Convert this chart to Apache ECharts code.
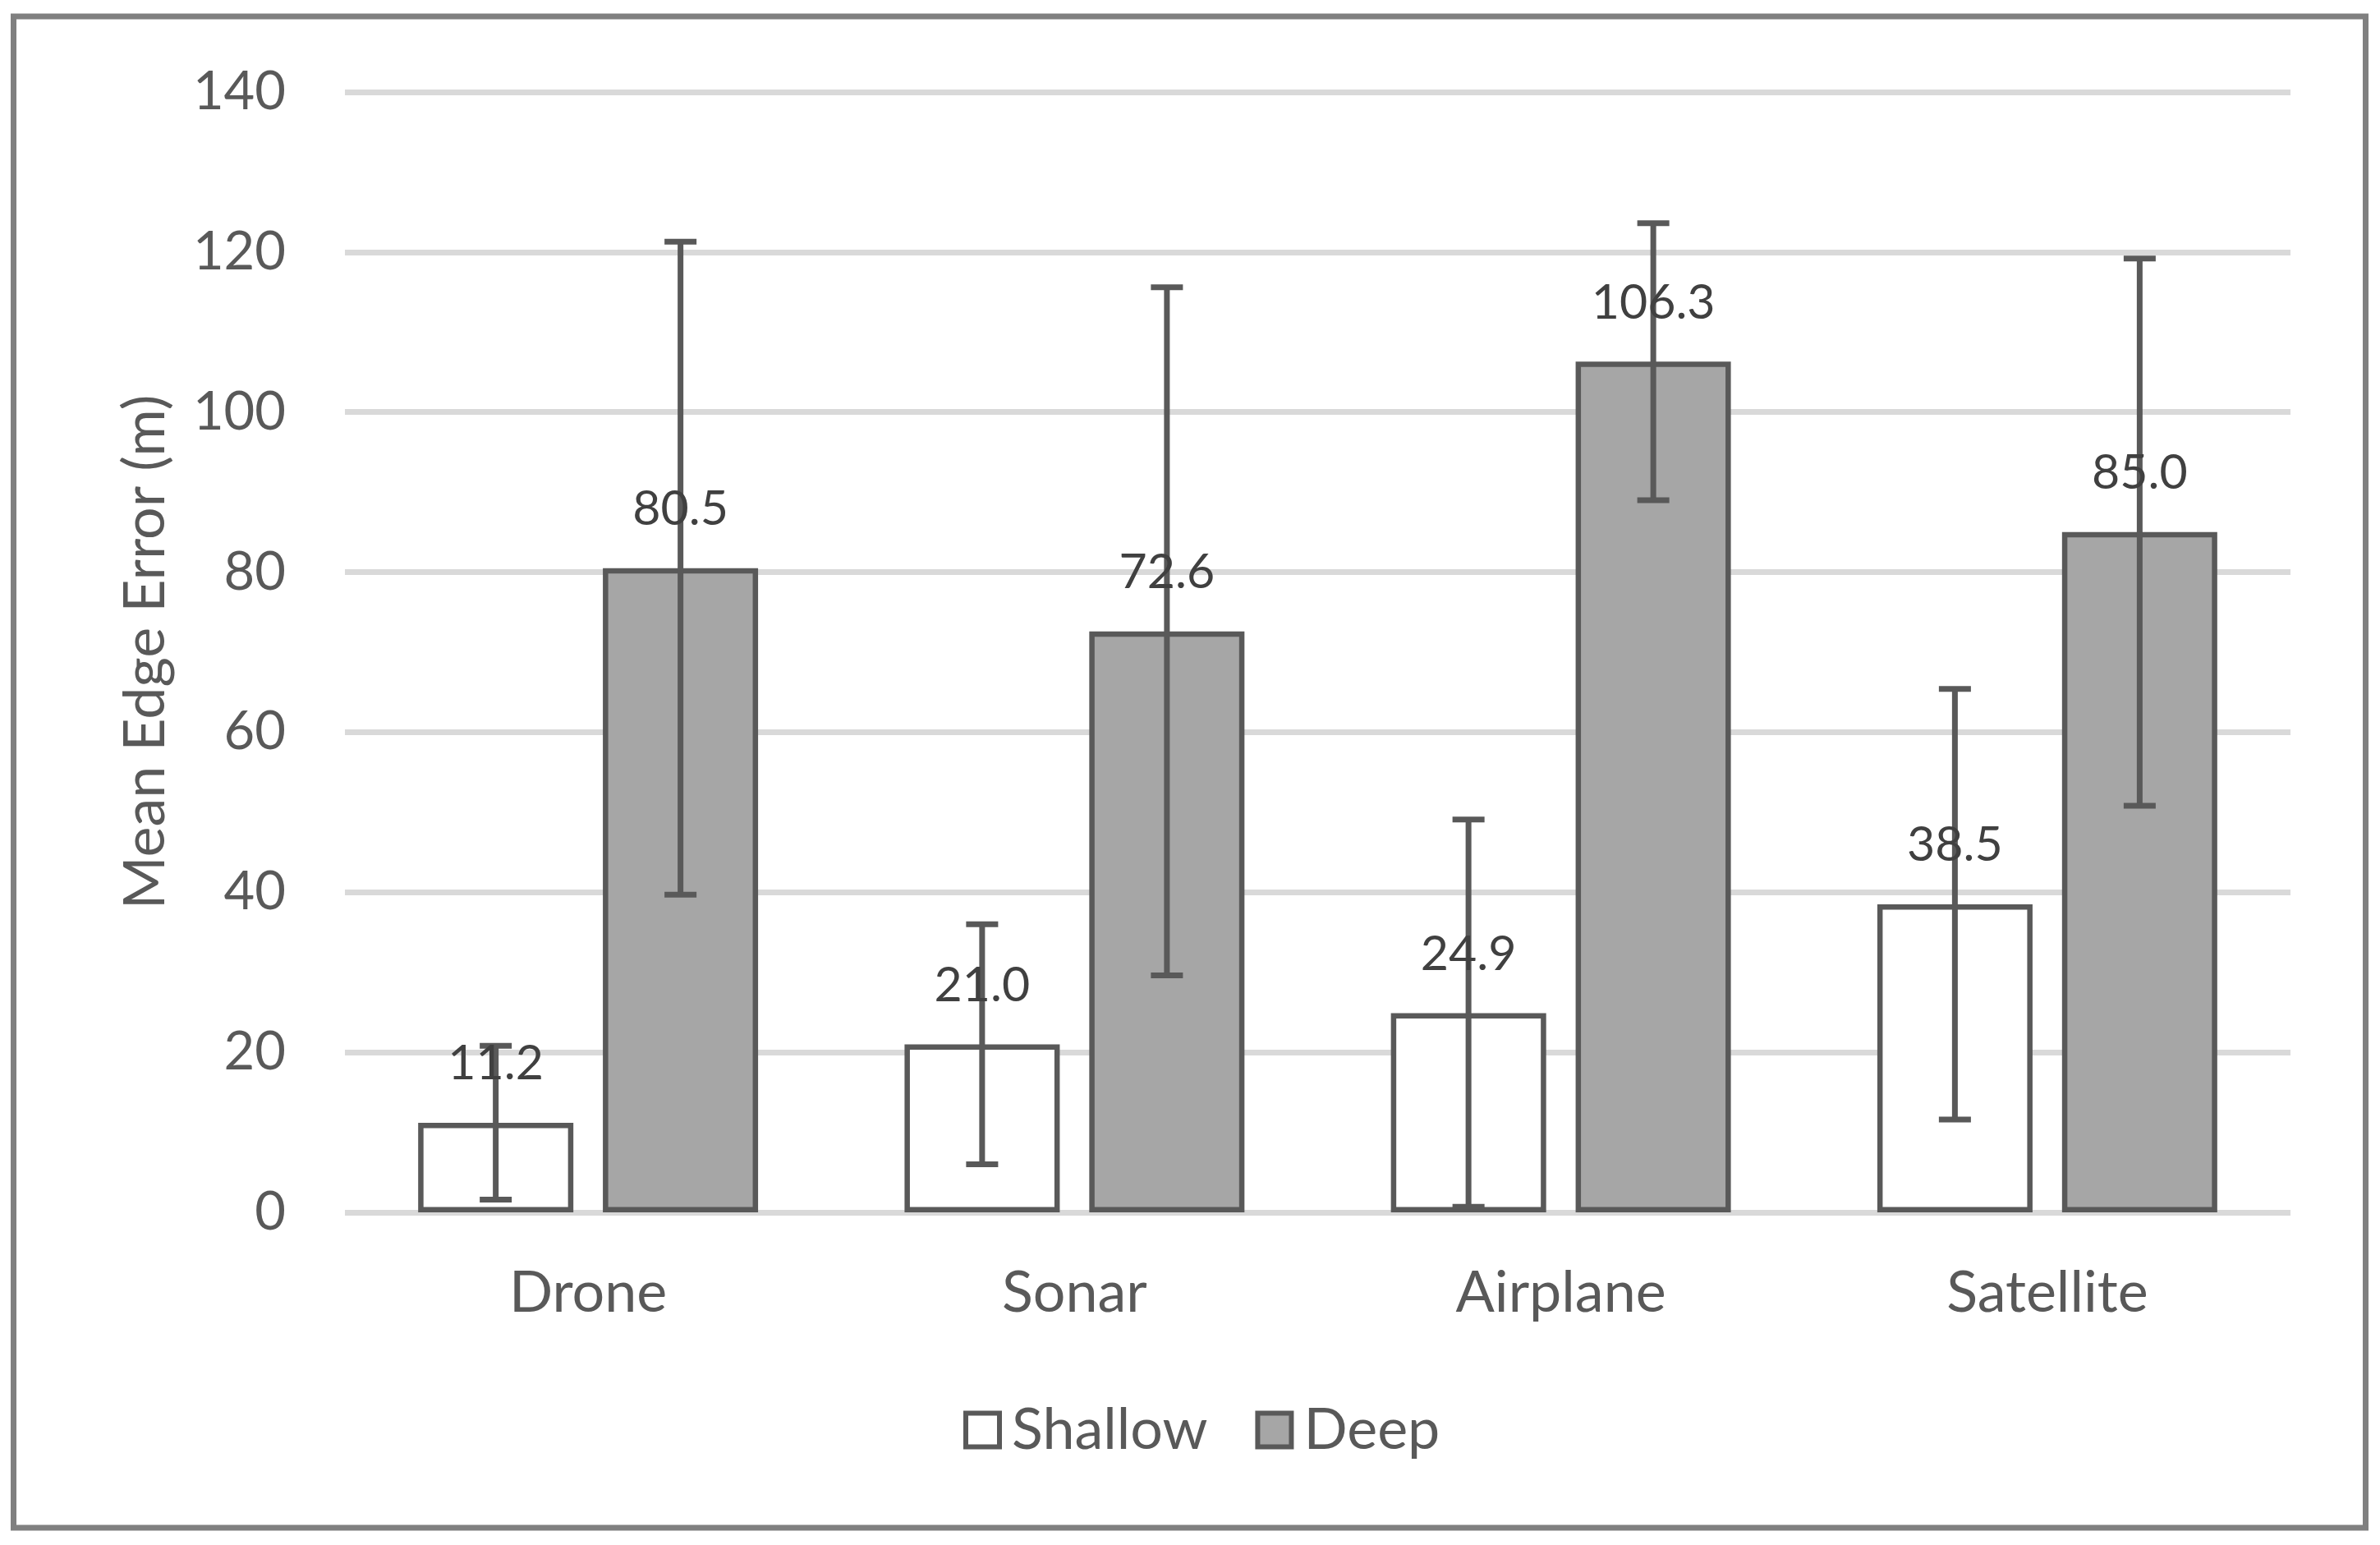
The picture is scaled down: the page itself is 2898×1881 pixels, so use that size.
<!DOCTYPE html>
<html>
<head>
<meta charset="utf-8">
<script src="https://cdn.jsdelivr.net/npm/echarts@6/dist/echarts.min.js"></script>
<style>
html,body{margin:0;padding:0;background:#fff;}
#chart{width:2898px;height:1881px;}
</style>
</head>
<body>
<div id="chart"></div>
<script>
const categories = ['Drone', 'Sonar', 'Airplane', 'Satellite'];
const shallowValues = [11.2, 21.0, 24.9, 38.5];
const deepValues = [80.5, 72.6, 106.3, 85.0];
const shallowErrors = [9.6, 15.0, 24.2, 26.9];
const deepErrors = [40.8, 43.0, 17.3, 34.2];
const yMin = 0, yMax = 140, yInterval = 20;

const FONT = 'Lato';
const AXIS_COLOR = '#595959';
const LABEL_COLOR = '#404040';
const BAR_W = 189;
const BAR_GAP_PX = 36;
const OFFSET = (BAR_W + BAR_GAP_PX) / 2;

function errData(vals, errs) {
  return vals.map((v, i) => [i, v, errs[i]]);
}

function errRender(offset) {
  return function (params, api) {
    const i = api.value(0), v = api.value(1), e = api.value(2);
    const c = api.coord([i, v]);
    const x = c[0] + offset;
    const yHi = api.coord([i, v + e])[1];
    const yLo = api.coord([i, v - e])[1];
    const hw = 19.5;
    const style = { stroke: AXIS_COLOR, lineWidth: 7 };
    return {
      type: 'group',
      children: [
        { type: 'line', shape: { x1: x, y1: yHi, x2: x, y2: yLo }, style, z2: 1 },
        { type: 'line', shape: { x1: x - hw, y1: yHi, x2: x + hw, y2: yHi }, style, z2: 1 },
        { type: 'line', shape: { x1: x - hw, y1: yLo, x2: x + hw, y2: yLo }, style, z2: 1 },
        {
          type: 'text',
          z2: 10,
          style: {
            text: v.toFixed(1),
            x: x,
            y: c[1] - 42,
            align: 'center',
            verticalAlign: 'bottom',
            fill: LABEL_COLOR,
            font: '59px ' + FONT
          }
        }
      ]
    };
  };
}

const chart = echarts.init(document.getElementById('chart'), null, { renderer: 'canvas' });
chart.setOption({
  animation: false,
  backgroundColor: '#ffffff',
  textStyle: { fontFamily: FONT },
  graphic: [{
    type: 'rect',
    shape: { x: 16.5, y: 20, width: 2864, height: 1840 },
    style: { fill: 'none', stroke: '#808080', lineWidth: 7 },
    silent: true
  }],
  grid: { left: 420, right: 109, top: 112, bottom: 405, containLabel: false },
  legend: {
    data: ['Shallow', 'Deep'],
    left: 1173,
    top: 1706,
    padding: 0,
    itemWidth: 41,
    itemHeight: 41,
    itemGap: 58,
    icon: 'rect',
    itemStyle: { borderColor: AXIS_COLOR, borderWidth: 6 },
    textStyle: { fontFamily: FONT, fontSize: 70, color: AXIS_COLOR, padding: [0, 0, 0, 10] }
  },
  xAxis: {
    type: 'category',
    data: categories,
    axisLine: { show: false },
    axisTick: { show: false },
    axisLabel: { fontFamily: FONT, fontSize: 70, color: AXIS_COLOR, margin: 63 }
  },
  yAxis: {
    type: 'value',
    min: yMin,
    max: yMax,
    interval: yInterval,
    name: 'Mean Edge Error (m)',
    nameLocation: 'middle',
    nameGap: 208,
    nameTextStyle: { fontFamily: FONT, fontSize: 70, color: AXIS_COLOR },
    axisLine: { show: false },
    axisTick: { show: false },
    axisLabel: { fontFamily: FONT, fontSize: 65, color: AXIS_COLOR, margin: 72 },
    splitLine: { lineStyle: { color: '#d9d9d9', width: 7 } }
  },
  series: [
    {
      name: 'Shallow',
      type: 'bar',
      data: shallowValues,
      barWidth: BAR_W,
      barGap: (BAR_GAP_PX / BAR_W * 100).toFixed(1) + '%',
      itemStyle: { color: '#ffffff', borderColor: AXIS_COLOR, borderWidth: 6.5 },
      z: 2
    },
    {
      name: 'Deep',
      type: 'bar',
      data: deepValues,
      barWidth: BAR_W,
      itemStyle: { color: '#a6a6a6', borderColor: AXIS_COLOR, borderWidth: 6.5 },
      z: 2
    },
    {
      name: 'Shallow error',
      type: 'custom',
      data: errData(shallowValues, shallowErrors),
      encode: { x: 0, y: 1 },
      renderItem: errRender(-OFFSET),
      silent: true,
      z: 5
    },
    {
      name: 'Deep error',
      type: 'custom',
      data: errData(deepValues, deepErrors),
      encode: { x: 0, y: 1 },
      renderItem: errRender(OFFSET),
      silent: true,
      z: 5
    }
  ]
});
</script>
</body>
</html>
